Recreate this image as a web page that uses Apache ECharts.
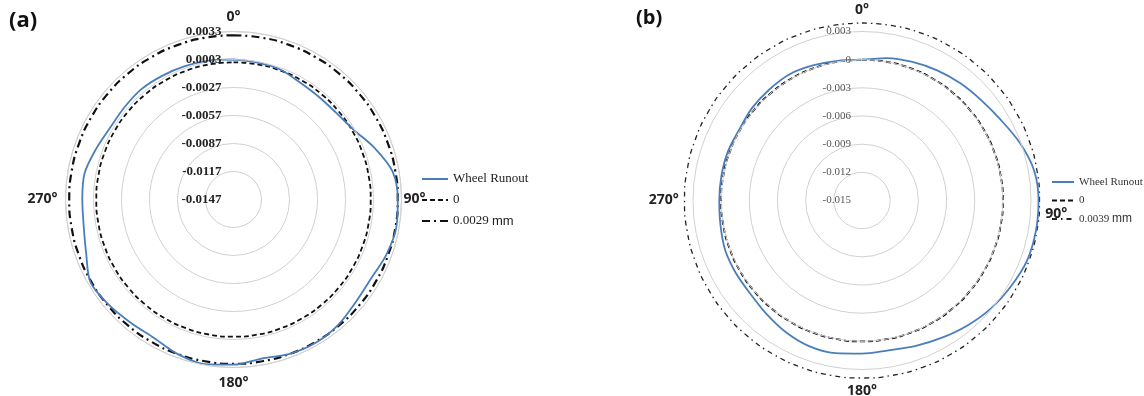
<!DOCTYPE html>
<html>
<head>
<meta charset="utf-8">
<script src="https://cdn.jsdelivr.net/npm/echarts@6/dist/echarts.min.js"></script>
<style>html,body{margin:0;padding:0;background:#fff}#c{width:1144px;height:396px}</style>
</head>
<body>
<div id="c"></div>
<script>
// angle positions (degrees)
const angles = [0,10,20,30,40,50,60,70,80,90,100,110,120,130,140,150,160,170,180,190,200,210,220,230,240,250,260,270,280,290,300,310,320,330,340,350,360];
// (a) wheel runout, mm
const runoutA = [0.0003,0.0002,0.0001,-0.0003,-0.0004,-0.0003,0.0002,0.0014,0.0026,0.0029,0.0030,0.0027,0.0023,0.0024,0.0028,0.0030,0.0029,0.0026,0.0030,0.0032,0.0029,0.0024,0.0025,0.0028,0.0030,0.0021,0.0016,0.0015,0.0015,0.0010,0.0006,0.0006,0.0007,0.0006,0.0005,0.0004,0.0003];
// (b) wheel runout, mm
const runoutB = [0.0000,0.0004,0.0007,0.0010,0.0013,0.0016,0.0021,0.0029,0.0036,0.0038,0.0038,0.0037,0.0033,0.0029,0.0024,0.0019,0.0015,0.0012,0.0013,0.0015,0.0015,0.0012,0.0008,0.0005,0.0005,0.0005,0.0003,0.0002,0.0002,0.0002,0.0001,0.0003,0.0004,0.0005,0.0003,0.0001,0.0000];
// reference circles
const zeroRef = 0;
const refA = 0.0029;
const refB = 0.0039;
// radial ticks
const minA = -0.0147, maxA = 0.0033, stepA = 0.003;
const minB = -0.015, maxB = 0.0042, stepB = 0.003;   // extent past the last ring so 0.0039 fits
const tickLabelsA = ['-0.0147','-0.0117','-0.0087','-0.0057','-0.0027','0.0003','0.0033'];
const tickLabelsB = ['-0.015','-0.012','-0.009','-0.006','-0.003','0','0.003'];
const angleLabels = ['0°','90°','180°','270°'];
const namesA = ['Wheel Runout','0','0.0029 mm'];
const namesB = ['Wheel Runout','0','0.0039 mm'];

const pairs = vals => vals.map((v, i) => [v, angles[i]]);
const constPairs = v => angles.map(a => [v, a]);

const chart = echarts.init(document.getElementById('c'));
const gridGrey = '#d0d0d0';
const angleLabelStyle = {fontFamily:'Open Sans', fontWeight:'bold', fontSize:14, color:'#222'};

function angleAxis(idx, margin, showLine, richMap) {
  const rich = {};
  Object.keys(richMap).forEach(k => { rich['r' + k] = Object.assign({padding: richMap[k]}, angleLabelStyle); });
  return {
    polarIndex: idx, type:'value', min:0, max:360, interval:90, startAngle:90, clockwise:true,
    axisLine:{show:showLine, lineStyle:{color:gridGrey, width:1}},
    axisTick:{show:false}, splitLine:{show:false},
    axisLabel: Object.assign({
      margin: margin,
      formatter: v => {
        const k = Math.round(v/90);
        const s = angleLabels[k];
        if (v >= 360 || !s) return '';
        if (richMap[k]) return '{r' + k + '|' + s + '}';
        return s;
      },
      rich: rich
    }, angleLabelStyle)
  };
}
function radiusAxis(idx, mn, mx, st, labels, lab, ringColors) {
  return {
    polarIndex: idx, type:'value', min:mn, max:mx, interval:st,
    axisLine:{show:false}, axisTick:{show:false},
    splitLine:{show:true, lineStyle:{color:ringColors, width:1}},
    axisLabel: Object.assign({
      formatter: v => {
        const f = (v - mn)/st, k = Math.round(f);
        return Math.abs(f - k) < 0.01 ? (labels[k] || '') : '';
      }
    }, lab),
    z: 5
  };
}
const legendFmt = name => name.endsWith(' mm') ? name.slice(0, -3) + ' {s|mm}' : name;
const gA = gridGrey;
const ringsA = [gA,gA,gA,gA,gA,gA,gA];
const ringsB = [gA,gA,gA,gA,gA,gA,gA,'rgba(0,0,0,0)'];

chart.setOption({
  animation:false,
  title:[
    {text:'(a)', left:9, top:10, padding:0, textStyle:{fontFamily:'Open Sans', fontWeight:'bold', fontSize:22, color:'#111'}},
    {text:'(b)', left:636, top:8, padding:0, textStyle:{fontFamily:'Open Sans', fontWeight:'bold', fontSize:20, color:'#111'}}
  ],
  polar:[
    {center:[233.5,199.5], radius:168},
    {center:[862,200.5], radius:180.3}
  ],
  angleAxis:[
    angleAxis(0, 2, true, {0:[0,0,5,0], 2:[7,0,0,0], 3:[0,6,0,0]}),
    angleAxis(1, 3, false, {1:[28,0,0,0]})
  ],
  radiusAxis:[
    radiusAxis(0, minA, maxA, stepA, tickLabelsA, {margin:12, fontFamily:'Liberation Serif', fontWeight:'bold', fontSize:13, color:'#222'}, ringsA),
    radiusAxis(1, minB, maxB, stepB, tickLabelsB, {margin:11, fontFamily:'Liberation Serif', fontSize:11, color:'#555'}, ringsB)
  ],
  legend:[
    {data:namesA, orient:'vertical', left:421, top:172, padding:0, itemWidth:26, itemHeight:14, itemGap:7,
     formatter:legendFmt, itemStyle:{opacity:0},
     textStyle:{fontFamily:'Liberation Serif', fontSize:13, color:'#222', lineHeight:14, rich:{s:{fontFamily:'Liberation Sans', fontSize:13, color:'#222'}}}},
    {data:namesB, orient:'vertical', left:1051, top:176, padding:0, itemWidth:22, itemHeight:12, itemGap:6.5,
     formatter:legendFmt, itemStyle:{opacity:0},
     textStyle:{fontFamily:'Liberation Serif', fontSize:11, color:'#333', lineHeight:12, rich:{s:{fontFamily:'Liberation Sans', fontSize:12, color:'#333'}}}}
  ],
  series:[
    {name:namesA[1], type:'line', coordinateSystem:'polar', polarIndex:0, data:constPairs(zeroRef), symbol:'none', smooth:0.5,
     lineStyle:{color:'#111', width:1.8, type:[5,3]}},
    {name:namesA[2], type:'line', coordinateSystem:'polar', polarIndex:0, data:constPairs(refA), symbol:'none', smooth:0.5,
     lineStyle:{color:'#111', width:2.2, type:[8,4,2,4]}},
    {name:namesA[0], type:'line', coordinateSystem:'polar', polarIndex:0, data:pairs(runoutA), symbol:'none', smooth:0.3,
     lineStyle:{color:'#4a7ebb', width:1.8}},
    {name:namesB[1], type:'line', coordinateSystem:'polar', polarIndex:1, data:constPairs(zeroRef), symbol:'none', smooth:0.5,
     lineStyle:{color:'#000', width:1.8, type:[5,3]}},
    {name:namesB[2], type:'line', coordinateSystem:'polar', polarIndex:1, data:constPairs(refB), symbol:'none', smooth:0.5,
     lineStyle:{color:'#222', width:1.3, type:[5,4,1.5,4]}},
    {name:namesB[0], type:'line', coordinateSystem:'polar', polarIndex:1, data:pairs(runoutB), symbol:'none', smooth:0.3,
     lineStyle:{color:'#4a7ebb', width:1.8}}
  ]
});
</script>
</body>
</html>
